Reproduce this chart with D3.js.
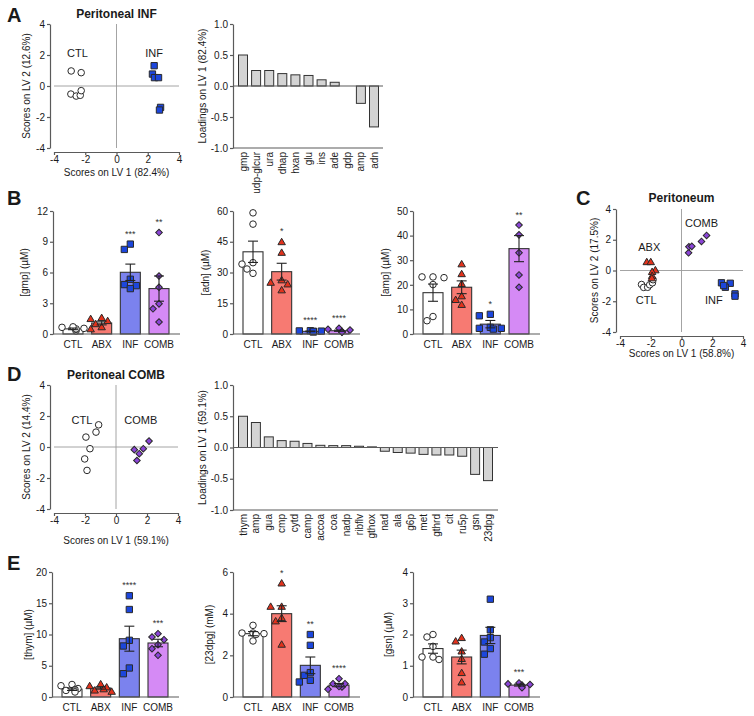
<!DOCTYPE html>
<html><head><meta charset="utf-8">
<script src="https://cdn.jsdelivr.net/npm/d3@7"></script>
<style>body{margin:0;background:#fff}svg{display:block}</style>
</head><body><svg id="fig" width="754" height="716"></svg>
<script>
// ---------------- DATA ----------------
const groups = ["CTL", "ABX", "INF", "COMB"];
const scoreTicks = [-4, -2, 0, 2, 4];

// Panel A scores
const aCtlScores = [[-2.9, 0.97], [-2.26, 0.86], [-2.92, -0.52], [-2.58, -0.65], [-2.32, -0.6], [-2.26, -0.3]];
const aInfScores = [[2.41, 1.31], [2.3, 0.77], [2.43, 0.54], [2.69, 0.54], [2.82, -1.38], [2.75, -1.55]];
// Panel A loadings
const aLoadNames = ["gmp", "udp-glcur", "ura", "dhap", "hxan", "glu", "ins", "ade", "gdp", "amp", "adn"];
const aLoadVals = [0.5, 0.25, 0.25, 0.2, 0.18, 0.17, 0.1, 0.06, 0.0, -0.28, -0.66];

// Panel B
const gmpMeans = [0.5, 1.07, 6.02, 4.43];
const gmpSems = [0.08, 0.18, 0.8, 1.23];
const gmpPts = [[0.3, 0.45, 0.5, 0.55, 0.65, 0.7], [1.6, 1.5, 1.3, 1.0, 0.7, 0.5], [8.77, 8.25, 5.34, 4.82, 4.72, 4.43], [9.9, 5.66, 4.56, 2.94, 2.46, 1.17]];
const gmpStars = ["", "", "***", "**"];

const adnMeans = [40.1, 30.4, 1.3, 1.6];
const adnSems = [5.2, 4.1, 0.15, 0.3];
const adnPts = [[59.1, 53.6, 34.8, 34.1, 31.7, 29.6], [45, 39.8, 26.4, 25.2, 24.4, 21.5], [1.6, 1.4, 1.2, 1.0, 1.5, 1.3], [2.8, 2.3, 1.9, 1.2, 1.0, 0.9]];
const adnStars = ["", "*", "****", "****"];

const ampMeans = [16.8, 19.0, 4.0, 34.7];
const ampSems = [3.5, 2.6, 1.5, 5.3];
const ampPts = [[23.2, 22.9, 23.2, 20.1, 5.4, 7.1], [28.5, 24.5, 20.5, 15.5, 14, 12], [8.0, 7.4, 2.3, 2.3, 2.7, 2.0], [44.3, 40.3, 33, 24, 19]];
const ampStars = ["", "", "*", "**"];

// Panel C scores
const cCtlScores = [[-2.6, -0.91], [-2.46, -1.1], [-2.2, -1.09], [-2.07, -0.93], [-1.89, -0.8], [-1.85, -0.6]];
const cAbxScores = [[-2.26, 0.57], [-2.0, 0.57], [-1.7, 0.04], [-1.91, -0.07], [-1.91, -0.33], [-1.93, -0.48]];
const cInfScores = [[3.17, -0.83], [2.6, -0.8], [2.85, -1.09], [2.74, -0.98], [3.48, -1.52], [3.48, -1.67]];
const cCombScores = [[0.46, 1.15], [0.48, 1.54], [0.67, 1.57], [1.3, 1.89], [1.63, 2.28]];

// Panel D scores
const dCtlScores = [[-1.94, 0.64], [-1.29, 0.96], [-1.12, 1.43], [-1.68, -0.11], [-2.02, -0.77], [-1.87, -1.51]];
const dCombScores = [[1.18, -0.17], [1.5, -0.43], [1.35, -0.87], [1.76, -0.11], [2.13, 0.38]];
// Panel D loadings
const dLoadNames = ["thym", "amp", "gua", "cmp", "cytd", "camp", "accoa", "coa", "nadp", "ribflv", "gthox", "nad", "ala", "g6p", "met", "gthrd", "cit", "ru5p", "gsn", "23dpg"];
const dLoadVals = [0.5, 0.4, 0.17, 0.11, 0.1, 0.065, 0.035, 0.03, 0.03, 0.02, 0.01, -0.06, -0.08, -0.09, -0.11, -0.12, -0.12, -0.14, -0.43, -0.53];

// Panel E
const thymMeans = [1.25, 1.44, 9.33, 8.64];
const thymSems = [0.2, 0.18, 2.0, 0.6];
const thymPts = [[2.0, 1.8, 1.35, 1.2, 1.05, 0.8], [2.1, 1.8, 1.6, 1.3, 1.1, 0.9], [16.2, 14.0, 9.07, 8.16, 4.64, 3.73], [10.13, 9.6, 9.17, 8.37, 7.73, 6.67]];
const thymStars = ["", "", "****", "***"];

const dpgMeans = [3.04, 4.0, 1.52, 0.57];
const dpgSems = [0.1, 0.38, 0.4, 0.08];
const dpgPts = [[3.44, 3.07, 3.07, 3.04, 3.0, 2.69], [5.47, 4.35, 4.35, 3.81, 3.65, 2.53], [3.0, 2.48, 1.17, 1.04, 0.8, 0.72], [0.88, 0.64, 0.64, 0.48, 0.37, 0.5]];
const dpgStars = ["", "*", "**", "****"];

const gsnMeans = [1.55, 1.28, 1.97, 0.38];
const gsnSems = [0.15, 0.22, 0.26, 0.03];
const gsnPts = [[1.92, 2.0, 1.62, 1.28, 1.2, 1.28], [1.9, 1.79, 1.47, 1.23, 0.78, 0.48], [3.13, 2.15, 1.9, 1.76, 1.55, 1.37], [0.45, 0.42, 0.4, 0.38, 0.35, 0.3]];
const gsnStars = ["", "", "", "***"];

// ---------------- STYLE ----------------
const FONT = '"Liberation Sans", Arial, Helvetica, sans-serif';
const AX = "#5a5a5a";
const barFill = { CTL: "#ffffff", ABX: "#f77a72", INF: "#7b82ee", COMB: "#d58af5" };
const markFill = { CTL: "#ffffff", ABX: "#e2321c", INF: "#1c46dc", COMB: "#8b44d8" };
const markShape = { CTL: "circle", ABX: "triangle", INF: "square", COMB: "diamond" };

const svg = d3.select("#fig");
svg.append("rect").attr("width", 754).attr("height", 716).attr("fill", "#fff");

function symPath(shape) {
  if (shape === "circle") return d3.symbol(d3.symbolCircle, 34)();
  if (shape === "square") return d3.symbol(d3.symbolSquare, 40)();
  if (shape === "triangle") return d3.symbol(d3.symbolTriangle, 24)();
  return d3.symbol(d3.symbolSquare, 22)();
}
function drawMark(g, shape, fill, px, py) {
  g.append("path").attr("d", symPath(shape))
    .attr("transform", `translate(${px},${py})` + (shape === "diamond" ? " rotate(45)" : "") + (shape === "triangle" ? " translate(0,0.8)" : ""))
    .attr("fill", fill).attr("stroke", "#2a2a2a").attr("stroke-width", 1);
}
function txt(g, x, y, s, size, opts = {}) {
  const t = g.append("text").attr("x", x).attr("y", y).text(s)
    .attr("font-family", FONT).attr("font-size", size).attr("fill", opts.fill || "#1a1a1a")
    .attr("text-anchor", opts.anchor || "middle");
  if (opts.bold) t.attr("font-weight", "bold");
  if (opts.rotate) t.attr("transform", `rotate(-90,${x},${y})`);
  if (opts.baseline) t.attr("dominant-baseline", opts.baseline);
  return t;
}
function styleAxis(g) {
  g.attr("font-family", FONT).attr("font-size", 10);
  g.select(".domain").attr("stroke", AX).attr("stroke-width", 1.2);
  g.selectAll(".tick line").attr("stroke", AX).attr("stroke-width", 1.2);
  g.selectAll(".tick text").attr("fill", "#1a1a1a");
}
const hy = s => String(s).replace("\u2212", "-");

// ---------------- SCORE PLOTS ----------------
function scorePlot(o) {
  const x = d3.scaleLinear().domain([-4, 4]).range([o.left, o.right]);
  const y = d3.scaleLinear().domain([-4, 4]).range([o.bottom, o.top]);
  const g = svg.append("g");
  g.append("line").attr("x1", x(0)).attr("x2", x(0)).attr("y1", y(4)).attr("y2", y(-4)).attr("stroke", "#9a9a9a").attr("stroke-width", 0.9);
  g.append("line").attr("x1", x(-4)).attr("x2", x(4)).attr("y1", y(0)).attr("y2", y(0)).attr("stroke", "#9a9a9a").attr("stroke-width", 0.9);
  const ya = g.append("g").attr("transform", `translate(${x(-4) - 4},0)`)
    .call(d3.axisLeft(y).tickValues(scoreTicks).tickSize(3).tickPadding(2).tickSizeOuter(0).tickFormat(hy));
  styleAxis(ya);
  const xa = g.append("g").attr("transform", `translate(0,${y(-4) + 4})`)
    .call(d3.axisBottom(x).tickValues(scoreTicks).tickSize(3).tickPadding(1).tickSizeOuter(0).tickFormat(hy));
  styleAxis(xa);
  o.series.forEach(s => s.pts.forEach(p => drawMark(g, markShape[s.grp], markFill[s.grp], x(p[0]), y(p[1]))));
  o.labels.forEach(l => txt(g, x(l[1]), y(l[2]), l[0], 11, { baseline: "central" }));
  txt(g, (o.left + o.right) / 2, o.titleY, o.title, 12, { bold: true });
  txt(g, (o.left + o.right) / 2, o.xTitleY, o.xTitle, 10);
  txt(g, o.yTitleX, (o.top + o.bottom) / 2, o.yTitle, 10, { rotate: true });
}

// ---------------- LOADINGS ----------------
function loadPlot(o) {
  const y = d3.scaleLinear().domain([-1, 1]).range([o.bottom, o.top]);
  const x = d3.scalePoint().domain(o.names).range([o.x0, o.x1]);
  const g = svg.append("g");
  g.selectAll(null).data(o.vals).join("rect")
    .attr("x", (d, i) => x(o.names[i]) - 4.5).attr("width", 9)
    .attr("y", d => y(Math.max(0, d))).attr("height", d => Math.abs(y(d) - y(0)))
    .attr("fill", "#d4d4d4").attr("stroke", "#333").attr("stroke-width", 1);
  g.append("line").attr("x1", o.ax).attr("x2", o.axEnd).attr("y1", y(0)).attr("y2", y(0)).attr("stroke", AX).attr("stroke-width", 1.2);
  g.append("line").attr("x1", o.ax).attr("x2", o.axEnd).attr("y1", y(-1)).attr("y2", y(-1)).attr("stroke", AX).attr("stroke-width", 1.2);
  const ya = g.append("g").attr("transform", `translate(${o.ax},0)`)
    .call(d3.axisLeft(y).tickValues([-1, -0.5, 0, 0.5, 1]).tickSize(3).tickPadding(2).tickSizeOuter(0).tickFormat(d => hy(d3.format(".1f")(d))));
  styleAxis(ya);
  o.names.forEach(n => txt(g, x(n), y(-1) + 4, n, 10, { rotate: true, anchor: "end", baseline: "central" }));
  txt(g, o.yTitleX, (o.top + o.bottom) / 2, o.yTitle, 10, { rotate: true });
}

// ---------------- BAR CHARTS ----------------
function swarm(vals, y, cx) {
  const items = vals.map(v => ({ v, py: y(v), px: cx }));
  const sorted = items.slice().sort((a, b) => b.v - a.v);
  const placed = [];
  const offs = [0, -6, 6, -11, 11, -3, 3];
  sorted.forEach(it => {
    for (const o of offs) {
      it.px = cx + o;
      if (placed.every(p => Math.hypot(p.px - it.px, p.py - it.py) >= 6.5)) break;
    }
    placed.push(it);
  });
  return items;
}
function barChart(o) {
  const y = d3.scaleLinear().domain([0, o.max]).range([o.y0, o.ytop]);
  const x = d3.scalePoint().domain(groups).range([o.ax + 20, o.ax + 106]);
  const g = svg.append("g");
  g.selectAll(null).data(groups).join("rect")
    .attr("x", d => x(d) - 10).attr("width", 20)
    .attr("y", (d, i) => y(o.means[i])).attr("height", (d, i) => o.y0 - y(o.means[i]))
    .attr("fill", d => barFill[d]).attr("stroke", "#333").attr("stroke-width", 1.1);
  groups.forEach((grp, i) => {
    swarm(o.pts[i], y, x(grp)).forEach(p => drawMark(g, markShape[grp], markFill[grp], p.px, p.py));
  });
  groups.forEach((grp, i) => {
    const m = o.means[i], s = o.sems[i], cx = x(grp);
    g.append("line").attr("x1", cx).attr("x2", cx).attr("y1", y(m + s)).attr("y2", y(Math.max(0, m - s))).attr("stroke", "#222").attr("stroke-width", 1.1);
    [m + s, m - s].forEach(v => { if (v > 0) g.append("line").attr("x1", cx - 5).attr("x2", cx + 5).attr("y1", y(v)).attr("y2", y(v)).attr("stroke", "#222").attr("stroke-width", 1.1); });
    if (o.stars[i]) {
      const top = Math.max(d3.max(o.pts[i]), m + s);
      txt(g, cx, y(top) - 7.5, o.stars[i], 9, { fill: "#333" });
    }
    txt(g, cx, o.y0 + 14, grp, 10);
  });
  g.append("line").attr("x1", o.ax).attr("x2", o.ax + 127).attr("y1", o.y0).attr("y2", o.y0).attr("stroke", AX).attr("stroke-width", 1.2);
  const ya = g.append("g").attr("transform", `translate(${o.ax},0)`)
    .call(d3.axisLeft(y).tickValues(d3.range(0, o.max + 1e-9, o.step)).tickSize(3).tickPadding(2).tickSizeOuter(0).tickFormat(d3.format("d")));
  styleAxis(ya);
  txt(g, o.yTitleX, (o.y0 + o.ytop) / 2, o.yTitle, 10, { rotate: true });
}

// ---------------- LAYOUT ----------------
const L = svg.append("g");
[["A", 7, 22], ["B", 7, 205], ["C", 576, 205], ["D", 7, 381], ["E", 7, 570]].forEach(d => txt(L, d[1], d[2], d[0], 20, { bold: true, anchor: "start" }));

scorePlot({ left: 54, right: 179, top: 24, bottom: 148, title: "Peritoneal INF", titleY: 18,
  xTitle: "Scores on LV 1 (82.4%)", xTitleY: 176, yTitle: "Scores on LV 2 (12.6%)", yTitleX: 30,
  series: [{ grp: "CTL", pts: aCtlScores }, { grp: "INF", pts: aInfScores }],
  labels: [["CTL", -2.5, 2.1], ["INF", 2.4, 2.1]] });
loadPlot({ ax: 233, axEnd: 383, top: 24, bottom: 148, x0: 243, x1: 374, names: aLoadNames, vals: aLoadVals,
  yTitle: "Loadings on LV 1 (82.4%)", yTitleX: 206 });

barChart({ ax: 53, y0: 334, ytop: 211, max: 12, step: 3, means: gmpMeans, sems: gmpSems, pts: gmpPts, stars: gmpStars, yTitle: "[gmp] (µM)", yTitleX: 28 });
barChart({ ax: 233, y0: 334, ytop: 211, max: 60, step: 15, means: adnMeans, sems: adnSems, pts: adnPts, stars: adnStars, yTitle: "[adn] (µM)", yTitleX: 209 });
barChart({ ax: 413, y0: 334, ytop: 211, max: 50, step: 10, means: ampMeans, sems: ampSems, pts: ampPts, stars: ampStars, yTitle: "[amp] (µM)", yTitleX: 389 });

scorePlot({ left: 620, right: 743, top: 209, bottom: 332, title: "Peritoneum", titleY: 202,
  xTitle: "Scores on LV 1 (58.8%)", xTitleY: 357, yTitle: "Scores on LV 2 (17.5%)", yTitleX: 598,
  series: [{ grp: "CTL", pts: cCtlScores }, { grp: "ABX", pts: cAbxScores }, { grp: "COMB", pts: cCombScores }, { grp: "INF", pts: cInfScores }],
  labels: [["COMB", 1.3, 3.1], ["ABX", -2.1, 1.5], ["CTL", -2.3, -1.9], ["INF", 2.1, -1.9]] });

scorePlot({ left: 54, right: 178, top: 385, bottom: 509, title: "Peritoneal COMB", titleY: 379,
  xTitle: "Scores on LV 1 (59.1%)", xTitleY: 544, yTitle: "Scores on LV 2 (14.4%)", yTitleX: 30,
  series: [{ grp: "CTL", pts: dCtlScores }, { grp: "COMB", pts: dCombScores }],
  labels: [["CTL", -2.2, 1.75], ["COMB", 1.6, 1.75]] });
loadPlot({ ax: 233, axEnd: 498, top: 385, bottom: 510, x0: 243, x1: 488, names: dLoadNames, vals: dLoadVals,
  yTitle: "Loadings on LV 1 (59.1%)", yTitleX: 206 });

barChart({ ax: 52, y0: 697, ytop: 572, max: 20, step: 5, means: thymMeans, sems: thymSems, pts: thymPts, stars: thymStars, yTitle: "[thym] (µM)", yTitleX: 32 });
barChart({ ax: 233, y0: 697, ytop: 572, max: 6, step: 2, means: dpgMeans, sems: dpgSems, pts: dpgPts, stars: dpgStars, yTitle: "[23dpg] (mM)", yTitleX: 213 });
barChart({ ax: 413, y0: 697, ytop: 572, max: 4, step: 1, means: gsnMeans, sems: gsnSems, pts: gsnPts, stars: gsnStars, yTitle: "[gsn] (µM)", yTitleX: 392 });
</script>
</body></html>
